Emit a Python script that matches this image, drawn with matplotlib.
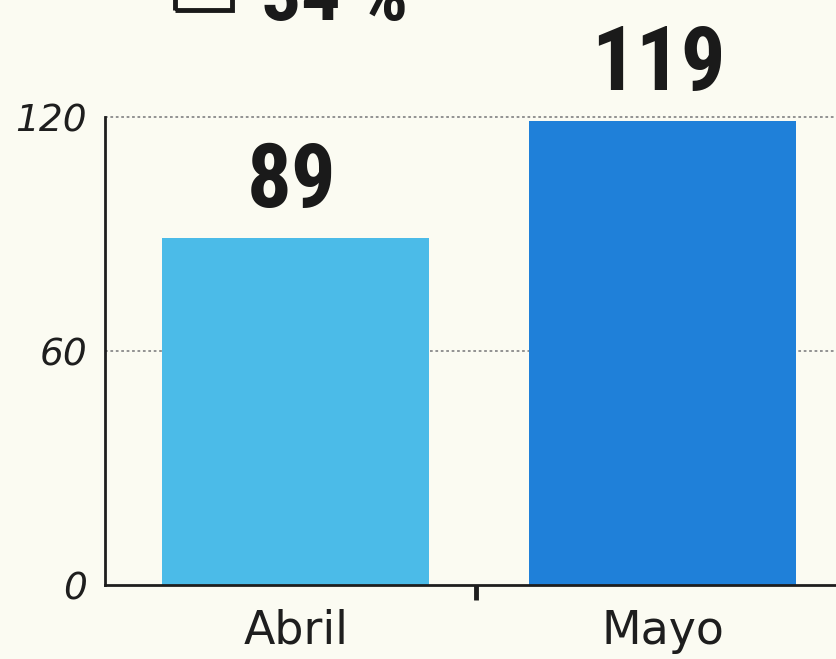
import matplotlib
matplotlib.use("Agg")
import matplotlib.pyplot as plt
from matplotlib.patches import Rectangle
from matplotlib.ticker import FixedLocator

categories = ["Abril", "Mayo"]
values = [89, 119]
value_labels = ["89", "119"]
yticks = [0, 60, 120]
ytick_labels = ["0", "60", "120"]
legend_text = "34 %"
colors = ["#4bbbe8", "#1f80d9"]

W, H = 837, 659
fig = plt.figure(figsize=(W / 100, H / 100), dpi=100)
bg = "#fbfbf2"
fig.patch.set_facecolor(bg)

left, bottom, top, right = 105, 585, 117, 905
ax = fig.add_axes([left / W, (H - bottom) / H, (right - left) / W, (bottom - top) / H])
ax.set_facecolor(bg)

x = list(range(len(categories)))
ax.bar(x, values, width=0.727, color=colors, zorder=2)
ax.set_xlim(-0.52, 1.66)
ax.set_ylim(0, 120)

ax.set_yticks(yticks)
ax.set_yticklabels(ytick_labels, fontsize=27, fontstyle="italic", color="#1e1e1e")
ax.tick_params(axis="y", length=0, pad=13)
ax.set_xticks(x)
ax.set_xticklabels(categories, fontsize=33, color="#1e1e1e")
ax.tick_params(axis="x", which="major", length=0, pad=17)
ax.xaxis.set_minor_locator(FixedLocator([0.49, 1.5]))
ax.tick_params(axis="x", which="minor", length=11, width=3.5, color="#1e1e1e", direction="out")

for s in ["top", "right"]:
    ax.spines[s].set_visible(False)
for s in ["left", "bottom"]:
    ax.spines[s].set_color("#1e1e1e")
    ax.spines[s].set_linewidth(2)

for yv in [60, 120]:
    ax.axhline(yv, color="#8a8a8a", linestyle=(0, (1.5, 1.5)), linewidth=1.3, zorder=1, clip_on=False)

label_family = ["Roboto Condensed", "Liberation Sans Narrow", "DejaVu Sans"]
for xi, v, lab in zip(x, values, value_labels):
    ax.annotate(lab, (xi, v), xytext=(-3, 22), textcoords="offset points",
                ha="center", va="baseline", fontsize=64, fontweight="bold",
                fontstretch="condensed", family=label_family, color="#1a1a1a",
                annotation_clip=False)

# partially visible legend at the top (cut off in the reference too)
fig.patches.append(Rectangle((175 / W, 1 - 10 / H), 57 / W, 50 / H, transform=fig.transFigure,
                             facecolor="none", edgecolor="#1a1a1a", linewidth=3.5))
fig.text(262 / W, 1 - 20 / H, legend_text, fontsize=56, fontweight="bold",
         fontstretch="condensed", family=label_family, color="#1a1a1a",
         va="baseline", ha="left")

fig.savefig("out.png", dpi=100, facecolor=bg)
